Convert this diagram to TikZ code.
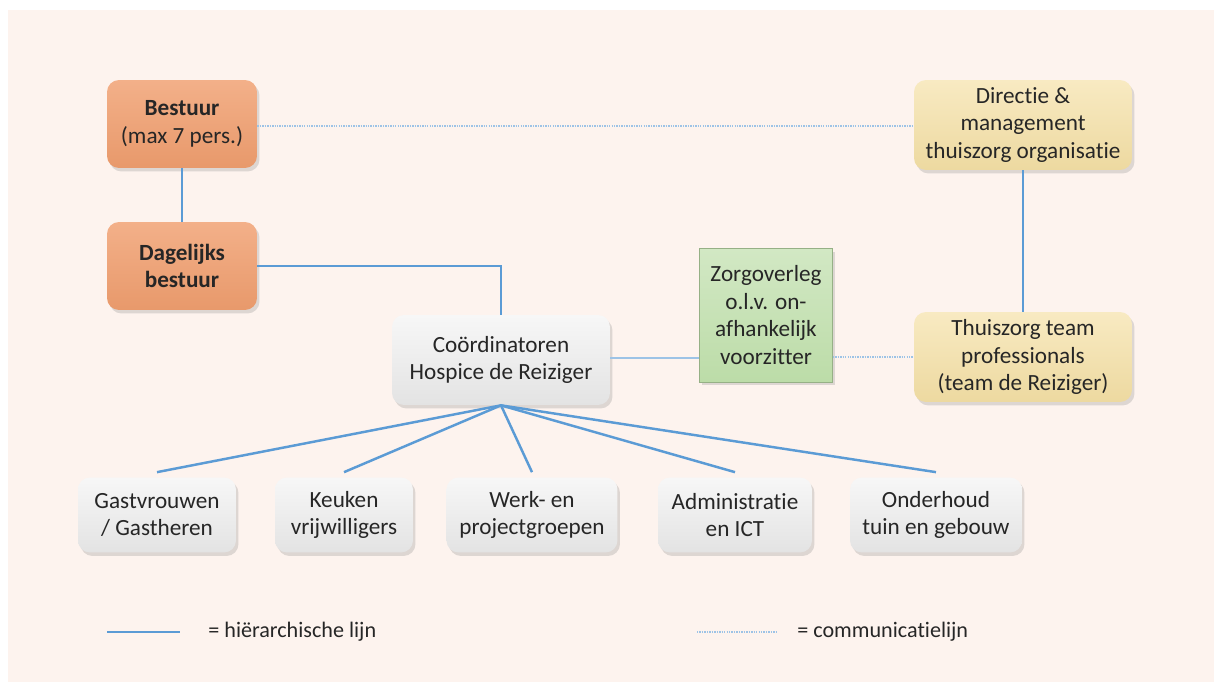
\documentclass[tikz,border=0pt]{standalone}
\usepackage{fontspec}
\setmainfont{Carlito}[Ligatures = NoCommon]
\usetikzlibrary{shadows}

\definecolor{achter}{HTML}{FDF3EE}
\definecolor{lijn}{HTML}{5B9BD5}
\definecolor{stip}{HTML}{9DC3E6}
\definecolor{tekst}{HTML}{262626}
\definecolor{oranjeL}{HTML}{F3B089}
\definecolor{oranje}{HTML}{E8996B}
\definecolor{geelL}{HTML}{F8EAC2}
\definecolor{geel}{HTML}{EDD9A0}
\definecolor{grijsL}{HTML}{F7F7F7}
\definecolor{grijs}{HTML}{E3E3E3}
\definecolor{groenL}{HTML}{D2E8C4}
\definecolor{groen}{HTML}{BCDCA8}

\begin{document}
\begin{tikzpicture}[x = 0.02cm, y = -0.02cm, font = \fontsize{13.2}{15.6}\selectfont]
	\tikzstyle{boxStyle} = [align = center, text = tekst, inner sep = 2pt, drop shadow = {opacity = 0.25, shadow xshift = 0.5mm, shadow yshift = -0.7mm}]
	\tikzstyle{roundStyle} = [boxStyle, rounded corners = 0.24cm]
	\tikzstyle{bestuurStyle} = [roundStyle, top color = oranjeL, bottom color = oranje, font = \fontsize{13.2}{15.6}\selectfont\bfseries, minimum width = 3cm, minimum height = 1.76cm]
	\tikzstyle{thuisStyle} = [roundStyle, top color = geelL, bottom color = geel, minimum width = 4.36cm, minimum height = 1.8cm]
	\tikzstyle{greyStyle} = [roundStyle, top color = grijsL, bottom color = grijs, minimum height = 1.5cm]
	\tikzstyle{overlegStyle} = [boxStyle, top color = groenL, bottom color = groen, draw = groen!80!black, line width = 0.3pt, minimum width = 2.66cm, minimum height = 2.68cm]
	\tikzstyle{hierStyle} = [draw = lijn, line width = 1.4pt]
	\tikzstyle{commStyle} = [draw = stip, line width = 0.6pt, dash pattern = on 0.8pt off 0.6pt]
	\tikzstyle{thinStyle} = [draw = stip, line width = 0.7pt]
	\tikzstyle{legendStyle} = [anchor = west, text = tekst, inner sep = 0pt, font = \fontsize{12.6}{14}\selectfont]

	\useasboundingbox (0,0) rectangle (1214,682);
	\fill[achter] (8,10) rectangle (1214,682);

	\node[bestuurStyle] (bestuur) at (182,124) {Bestuur\\\mdseries(max 7 pers.)};
	\node[bestuurStyle] (dagelijks) at (182,266) {Dagelijks\\bestuur};
	\node[thuisStyle] (directie) at (1023,125) {Directie \&\\management\\thuiszorg organisatie};
	\node[thuisStyle] (team) at (1023,357) {Thuiszorg team\\professionals\\(team de Reiziger)};
	\node[greyStyle, minimum width = 4.36cm, minimum height = 1.8cm] (coord) at (501,360) {Coördinatoren\\Hospice de Reiziger};
	\node[overlegStyle] (overleg) at (766,315) {Zorgoverleg\\o.l.v. on-\\afhankelijk\\voorzitter};
	\node[greyStyle, minimum width = 3.16cm] (gast) at (157,515) {Gastvrouwen\\/ Gastheren};
	\node[greyStyle, minimum width = 2.76cm] (keuken) at (344,515) {Keuken\\vrijwilligers};
	\node[greyStyle, minimum width = 3.42cm] (werk) at (532,515) {Werk- en\\projectgroepen};
	\node[greyStyle, minimum width = 3.08cm] (admin) at (735,515) {Administratie\\en ICT};
	\node[greyStyle, minimum width = 3.44cm] (onderhoud) at (936,515) {Onderhoud\\tuin en gebouw};

	\draw[commStyle] (bestuur.east |- 0,126) -- (directie.west |- 0,126);
	\draw[hierStyle] (bestuur) -- (dagelijks);
	\draw[hierStyle] (dagelijks.east) -- (dagelijks.east -| coord.north) -- (coord.north);
	\draw[hierStyle] (directie) -- (team);
	\draw[thinStyle] (coord.east |- 0,358) -- (overleg.west |- 0,358);
	\draw[commStyle] (overleg.east |- team.west) -- (team.west);
	\foreach \b in {gast, keuken, werk, admin, onderhoud}
		\draw[hierStyle] (coord.south) -- ([yshift = 1mm]\b.north);

	\coordinate (h0) at (107,632);
	\coordinate (h1) at (180,632);
	\coordinate (c0) at (697,632);
	\coordinate (c1) at (778,632);
	\draw[hierStyle] (h0) -- (h1);
	\draw[commStyle] (c0) -- (c1);
	\node[legendStyle] (hlabel) at (208,632) {= hiërarchische lijn};
	\node[legendStyle] (clabel) at (797,632) {= communicatielijn};
\end{tikzpicture}
\end{document}
